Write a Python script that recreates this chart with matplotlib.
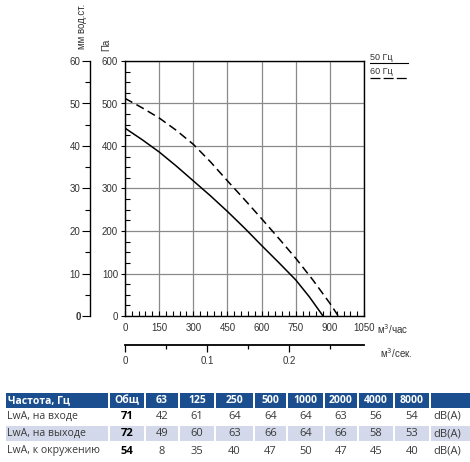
import matplotlib
matplotlib.use("Agg")
import matplotlib.pyplot as plt
import matplotlib.patches as patches
from matplotlib.ticker import MultipleLocator

# --- данные кривых (м3/час, Па) ---
q_50 = [0, 75, 150, 225, 300, 375, 450, 525, 600, 675, 750, 810, 870]
p_50 = [442, 415, 386, 353, 318, 283, 246, 207, 166, 126, 85, 45, 0]
q_60 = [0, 75, 150, 225, 300, 375, 450, 525, 600, 675, 750, 825, 900, 937]
p_60 = [512, 490, 466, 437, 404, 363, 318, 274, 229, 183, 136, 85, 30, 0]

# --- таблица шума ---
freqs = ['63', '125', '250', '500', '1000', '2000', '4000', '8000']
row_names = ['LwA, на входе', 'LwA, на выходе', 'LwA, к окружению']
totals = [71, 72, 54]
lwa_in = [42, 61, 64, 64, 64, 63, 56, 54]
lwa_out = [49, 60, 63, 66, 64, 66, 58, 53]
lwa_env = [8, 35, 40, 47, 50, 47, 45, 40]

W, H = 470, 462
fig = plt.figure(figsize=(W / 100, H / 100), dpi=100)
plt.rcParams['font.family'] = ['Liberation Sans', 'DejaVu Sans']

# оверлей в пиксельных координатах для подписей и таблицы
ov = fig.add_axes([0, 0, 1, 1])
ov.set_xlim(0, W)
ov.set_ylim(H, 0)
ov.axis('off')

ax = fig.add_axes([125 / W, 1 - 316 / H, 239 / W, 255 / H])
ax.set_xlim(0, 1050)
ax.set_ylim(0, 600)

tick_col = '#333333'
ax.plot(q_50, p_50, color='black', lw=1.1, zorder=3)
ax.plot(q_60, p_60, color='black', lw=1.1, dashes=(5.5, 3), zorder=3)

ax.xaxis.set_major_locator(MultipleLocator(150))
ax.xaxis.set_minor_locator(MultipleLocator(30))
ax.yaxis.set_major_locator(MultipleLocator(100))
ax.yaxis.set_minor_locator(MultipleLocator(25))
ax.grid(True, which='major', color='#8a8a8a', lw=0.9)
ax.set_axisbelow(True)
for s in ax.spines.values():
    s.set_color('black')
    s.set_linewidth(1.0)
ax.tick_params(axis='x', which='both', direction='in', length=3.5, width=0.8,
               labelsize=7, labelcolor=tick_col, pad=5)
ax.tick_params(axis='y', which='major', direction='out', length=3, width=0.8,
               labelsize=7, labelcolor=tick_col, pad=2)
ax.tick_params(axis='y', which='minor', direction='in', length=3.4, width=0.8)
ax.set_xticks(range(0, 1051, 150))
ax.set_xticklabels([str(v) for v in range(0, 1051, 150)])
ax.text(1.055, -0.05, 'м$^3$/час', transform=ax.transAxes, fontsize=7,
        color=tick_col, ha='left', va='center')

# шкала мм вод.ст.
sec_y = ax.secondary_yaxis(-35 / 239, functions=(lambda p: p / 10, lambda m: m * 10))
sec_y.set_yticks(range(0, 61, 10))
sec_y.yaxis.set_minor_locator(MultipleLocator(5))
sec_y.tick_params(which='major', direction='out', length=5.8, width=0.8,
                  labelsize=7, labelcolor=tick_col, pad=1)
sec_y.tick_params(which='minor', direction='out', length=3.6, width=0.8)
sec_y.spines['left'].set_linewidth(1.0)
lbls = sec_y.get_yticklabels()
sec_y.set_yticklabels([t.get_text() for t in lbls])
sec_y.get_yticklabels()[0].set_fontweight('bold')

# шкала м3/сек
sec_x = ax.secondary_xaxis(-29 / 255, functions=(lambda q: q / 3600, lambda s: s * 3600))
sec_x.set_xticks([0, 0.1, 0.2])
sec_x.set_xticklabels(['0', '0.1', '0.2'])
sec_x.xaxis.set_minor_locator(MultipleLocator(0.05))
sec_x.tick_params(which='major', direction='out', length=5, width=0.9,
                  labelsize=7, labelcolor=tick_col, pad=3)
sec_x.tick_params(which='minor', direction='out', length=3, width=0.9)
sec_x.spines['bottom'].set_linewidth(1.3)
ov.text(380, 353, 'м$^3$/сек.', fontsize=7, color=tick_col, ha='left', va='center')

# подписи осей
ov.text(82, 26, 'мм вод.ст.', rotation=90, fontsize=7, color=tick_col, ha='center', va='center')
ov.text(106, 45, 'Па', rotation=90, fontsize=7, color=tick_col, ha='center', va='center')

# рамка с названием
ov.add_patch(patches.Rectangle((265, 80), 85, 18, fill=True, fc='white', ec='black', lw=0.9, zorder=5))
ov.text(268, 89.5, 'TK 200-B', fontsize=10, family=['Open Sans', 'DejaVu Sans'],
        ha='left', va='center', color='black', zorder=6)

# легенда
ov.text(370, 57, '50 Гц', fontsize=6.5, color=tick_col, ha='left', va='center')
ov.plot([370, 408], [63, 63], color='black', lw=0.8)
ov.text(370, 71.5, '60 Гц', fontsize=6.5, color=tick_col, ha='left', va='center')
ov.plot([370, 408], [78, 78], color='black', lw=0.9, dashes=(8, 2.5))

# --- таблица ---
tfont = ['Open Sans', 'DejaVu Sans']
edges = [(6, 108), (110, 144), (146, 178), (180, 214), (216, 253), (255, 286),
         (288, 323), (325, 357), (359, 393), (395, 429), (431, 470)]
header = ['Частота, Гц', 'Общ'] + freqs + ['']
head_col = '#1a4e8e'
band_col = '#d3d9ea'
for i, (x0, x1) in enumerate(edges):
    ov.add_patch(patches.Rectangle((x0, 393), x1 - x0, 15, fc=head_col, ec='none'))
    if i == 0:
        ov.text(x0 + 2, 400.5, header[i], fontsize=7.5, color='white', fontweight='bold',
                family=tfont, ha='left', va='center')
    else:
        ov.text((x0 + x1) / 2, 400.5, header[i], fontsize=7.5, color='white', fontweight='bold',
                family=tfont, ha='center', va='center')
    ov.add_patch(patches.Rectangle((x0, 426), x1 - x0, 15, fc=band_col, ec='none'))

rows = [lwa_in, lwa_out, lwa_env]
ys = [416.5, 433.5, 451]
txt_col = '#3a3a3a'
for name, tot, vals, y in zip(row_names, totals, rows, ys):
    ov.text(edges[0][0] + 1, y, name, fontsize=7.6, color=txt_col, family=tfont,
            ha='left', va='center')
    ov.text(sum(edges[1]) / 2, y, str(tot), fontsize=8, color='black', fontweight='bold',
            family=tfont, ha='center', va='center')
    for (x0, x1), v in zip(edges[2:10], vals):
        ov.text((x0 + x1) / 2, y, str(v), fontsize=8, color=txt_col, family=tfont,
                ha='center', va='center')
    ov.text(edges[10][0] + 2, y, 'dB(A)', fontsize=8, color=txt_col, family=tfont,
            ha='left', va='center')

fig.savefig('out.png', dpi=100)
